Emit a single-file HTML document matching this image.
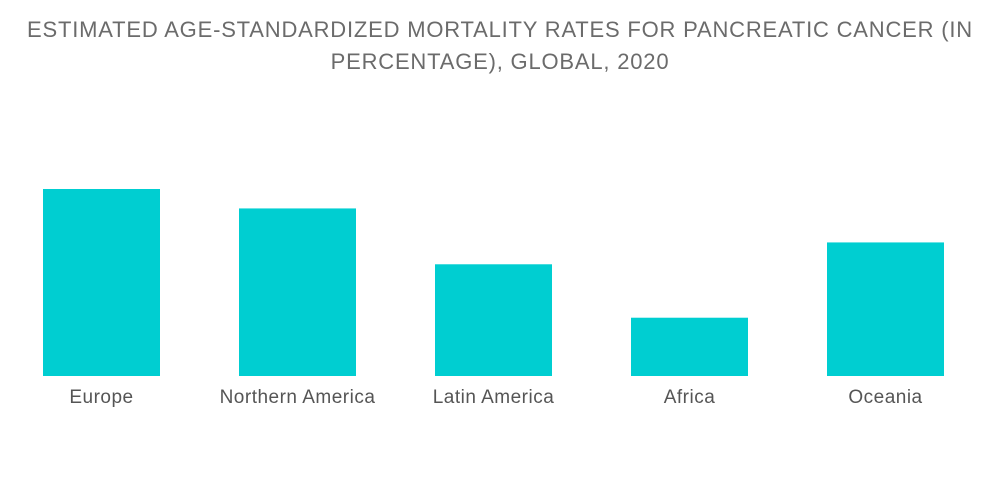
<!DOCTYPE html>
<html>
<head>
<meta charset="utf-8">
<style>
  html,body{margin:0;padding:0;background:#fff;}
  body{width:1000px;height:504px;overflow:hidden;font-family:"Liberation Sans",sans-serif;}
  .title{position:absolute;left:0;top:14px;width:1000px;text-align:center;color:#6b6b6b;font-size:22px;line-height:32px;letter-spacing:0.8px;}
</style>
</head>
<body>
<div class="title">ESTIMATED AGE-STANDARDIZED MORTALITY RATES FOR PANCREATIC CANCER (IN<br>PERCENTAGE), GLOBAL, 2020</div>
<svg id="chart" width="1000" height="504" style="position:absolute;left:0;top:0"></svg>
<script>
const categories = ["Europe","Northern America","Latin America","Africa","Oceania"];
const values = [7.7, 6.9, 4.6, 2.4, 5.5];

const svg = document.getElementById('chart');
const NS = 'http://www.w3.org/2000/svg';
const baseline = 376, pxPerUnit = 187/7.7;
const x0 = 43, step = 196, barW = 117;
function xPos(i){ return x0 + i*step; }
function yPos(v){ return baseline - v*pxPerUnit; }
categories.forEach((c,i)=>{
  const r = document.createElementNS(NS,'rect');
  r.setAttribute('x', xPos(i));
  r.setAttribute('y', yPos(values[i]));
  r.setAttribute('width', barW);
  r.setAttribute('height', baseline - yPos(values[i]));
  r.setAttribute('fill', '#00ced1');
  
  
  svg.appendChild(r);
  const t = document.createElementNS(NS,'text');
  t.setAttribute('x', xPos(i) + barW/2);
  t.setAttribute('y', 403);
  t.setAttribute('text-anchor', 'middle');
  t.setAttribute('font-size', '19');
  t.setAttribute('letter-spacing', '0.5');
  t.setAttribute('fill', '#555');
  t.setAttribute('font-family', 'Liberation Sans, sans-serif');
  t.textContent = c;
  
  
  svg.appendChild(t);
});
</script>
</body>
</html>
